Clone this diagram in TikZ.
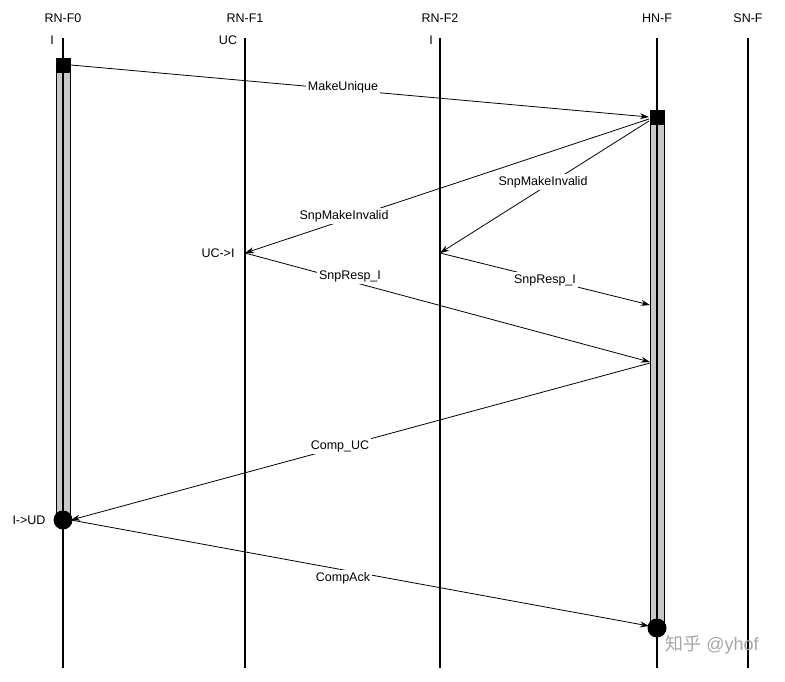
\documentclass[tikz,border=0pt]{standalone}
\usepackage{fontspec}
\setmainfont{Liberation Sans}
\newfontfamily\cjk{Noto Sans CJK SC}
\usetikzlibrary{arrows.meta,positioning}
\definecolor{bar}{HTML}{C8C8C8}
\tikzset{
  life/.style={draw=black, line width=1.4pt},
  msg/.style={draw=black, line width=0.8pt, -{Stealth[length=9pt,width=6pt]}},
  lbl/.style={fill=white, inner sep=2pt, font=\fontsize{12.5}{14}\selectfont},
  hdr/.style={inner sep=0pt, font=\fontsize{12.5}{14}\selectfont},
}
\begin{document}
\begin{tikzpicture}[x=1pt, y=-1pt]
  \useasboundingbox (0,0) rectangle (785,681);
  % lifelines
  \foreach \nm/\xx in {f0/63, fa/245, fb/440, hn/657, sn/748} {
    \coordinate (\nm top) at (\xx,38);
    \coordinate (\nm bot) at (\xx,668);
    \draw[life] (\nm top) -- (\nm bot);
  }
  \node[hdr] (hf0) at (63,18) {RN-F0};
  \node[hdr] (hfa) at (245,18) {RN-F1};
  \node[hdr] (hfb) at (440,18) {RN-F2};
  \node[hdr] (hhn) at (657,18) {HN-F};
  \node[hdr] (hsn) at (748,18) {SN-F};
  \node[hdr] (sf0) at (52,40) {I};
  \node[hdr] (sfa) at (228,40) {UC};
  \node[hdr] (sfb) at (431,40) {I};

  % activation bars
  \filldraw[fill=bar, draw=black, thick] (56,65) rectangle (70,520);
  \filldraw[fill=bar, draw=black, thick] (650,117) rectangle (664,628);
  \draw[life] (63,65) -- (63,520);
  \draw[life] (657,117) -- (657,628);
  \node[fill=black, minimum size=15pt, inner sep=0pt] (sq0) at (63,65) {};
  \node[fill=black, minimum size=15pt, inner sep=0pt] (sqh) at (657,117) {};
  \node[circle, fill=black, minimum size=19pt, inner sep=0pt] (ci0) at (63,520) {};
  \node[circle, fill=black, minimum size=19pt, inner sep=0pt] (cih) at (657,628) {};

  % message points
  \coordinate (a1) at (71,65);   \coordinate (b1) at (649,117);
  \coordinate (a2) at (649,119); \coordinate (b2) at (245,253);
  \coordinate (a3) at (649,121); \coordinate (b3) at (440,253);
  \coordinate (a4) at (245,253); \coordinate (b4) at (650,362);
  \coordinate (a5) at (440,253); \coordinate (b5) at (650,305);
  \coordinate (a6) at (650,363); \coordinate (b6) at (71,520);
  \coordinate (a7) at (71,520);  \coordinate (b7) at (649,626);

  \draw[msg] (a1) -- (b1);
  \draw[msg] (a2) -- (b2);
  \draw[msg] (a3) -- (b3);
  \draw[msg] (a4) -- (b4);
  \draw[msg] (a5) -- (b5);
  \draw[msg] (a6) -- (b6);
  \draw[msg] (a7) -- (b7);

  \node[lbl] (l1) at (343,87) {MakeUnique};
  \node[lbl] (l2) at (344,216) {SnpMakeInvalid};
  \node[lbl] (l3) at (543,182) {SnpMakeInvalid};
  \node[lbl] (l4) at (350,276) {SnpResp\_I};
  \node[lbl] (l5) at (545,280) {SnpResp\_I};
  \node[lbl] (l6) at (340,446) {Comp\_UC};
  \node[lbl] (l7) at (343,578) {CompAck};

  \node[hdr] (tfa) at (218,253) {UC->I};
  \node[hdr] (tf0) at (29,520) {I->UD};

  \node[inner sep=0pt, text=gray!70, font=\fontsize{18}{20}\selectfont] (wm) at (712,645) {{\cjk 知乎} @yhof};
\end{tikzpicture}
\end{document}
